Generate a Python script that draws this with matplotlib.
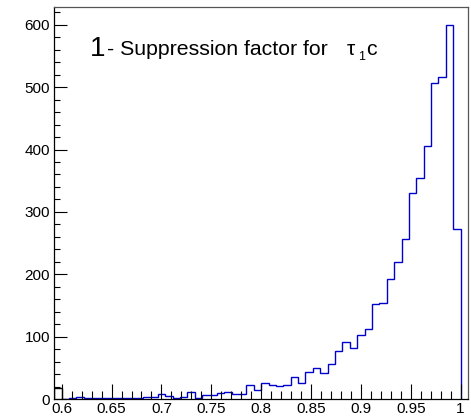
import numpy as np
import matplotlib
matplotlib.use("Agg")
import matplotlib.pyplot as plt
from matplotlib.ticker import MultipleLocator

plt.rcParams['font.family'] = ['Liberation Sans', 'DejaVu Sans']

# suppression factor histogram, 54 bins between 0.6 and 1
x_lo, x_hi, n_bins = 0.6, 1.0, 54
counts = [0, 1, 3, 1, 1, 1, 2, 1, 1, 1,
          2, 3, 3, 8, 5, 1, 4, 11, 2, 6,
          7, 9, 11, 8, 8, 22, 14, 25, 22, 21,
          23, 35, 26, 44, 49, 41, 56, 77, 91, 81,
          102, 112, 152, 154, 193, 219, 256, 330, 355, 405,
          506, 516, 599, 272]
# the single bin just below 0.6
underflow = 18

bw = (x_hi - x_lo) / n_bins
edges = x_lo + bw * np.arange(n_bins + 1)

fig = plt.figure(figsize=(4.71, 4.19), dpi=100)
ax = fig.add_axes([0.1153, 0.0477, 0.9936 - 0.1153, 0.984 - 0.0477])

ax.stairs(counts, edges, color='#0000cc', linewidth=1.0)
ax.stairs([underflow], [x_lo - bw, x_lo], color='black', linewidth=1.0)

ax.set_xlim(x_lo - bw, x_hi + bw)
ax.set_ylim(0, max(counts) * 1.05)

ax.xaxis.set_major_locator(MultipleLocator(0.05))
ax.xaxis.set_minor_locator(MultipleLocator(0.01))
ax.yaxis.set_major_locator(MultipleLocator(100))
ax.yaxis.set_minor_locator(MultipleLocator(20))
ax.xaxis.set_major_formatter(plt.FuncFormatter(lambda v, p: ('%g' % round(v, 3))))

ax.tick_params(axis='x', which='major', direction='in', length=11, width=0.8,
               labelsize=11, pad=2)
ax.tick_params(axis='x', which='minor', direction='in', length=5.5, width=0.8)
ax.tick_params(axis='y', which='major', direction='in', length=9, width=0.8,
               labelsize=11, pad=3)
ax.tick_params(axis='y', which='minor', direction='in', length=4.5, width=0.8)
for side in ('top', 'right'):
    ax.spines[side].set_color('#555555')
for sp in ax.spines.values():
    sp.set_linewidth(0.9)

# title label
ax.text(0.6283, 550, '1', fontsize=20, ha='left', va='baseline')
ax.text(0.6453, 551, '- Suppression factor for', fontsize=15.3, ha='left', va='baseline')
ax.text(0.8855, 551, '\u03c4', fontsize=15, ha='left', va='baseline')
ax.text(0.8975, 544, '1', fontsize=9, ha='left', va='baseline')
ax.text(0.9055, 551, 'c', fontsize=15.3, ha='left', va='baseline')

fig.savefig('out.png', dpi=100)
